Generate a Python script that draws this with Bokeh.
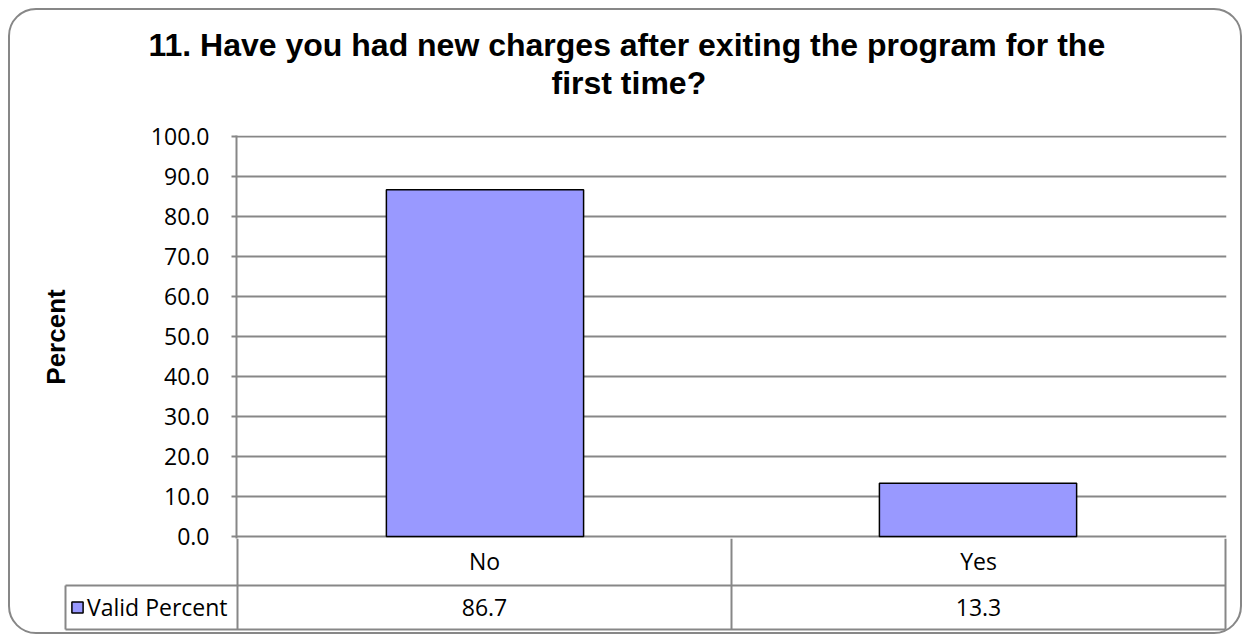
from bokeh.plotting import figure
from bokeh.layouts import column
from bokeh.models import (FactorRange, Range1d, FixedTicker, NumeralTickFormatter, Legend,
                          LegendItem, Title)
from bokeh.core.properties import value
from bokeh.embed import file_html
from bokeh.resources import INLINE

# ---- data ----
title_lines = ["11. Have you had new charges after exiting the program for the", "first time?"]
categories = ["No", "Yes"]
valid_percent = [86.7, 13.3]
series_name = "Valid Percent"
y_ticks = [0, 10, 20, 30, 40, 50, 60, 70, 80, 90, 100]
y_label = "Percent"

# ---- style / layout constants ----
GRID = "#878787"
BAR = "#9999FF"
W = 1230                 # inner width of the bordered chart area
PX_X = 494.0             # px per category
X0 = 227                 # canvas x of the first category boundary
LEG_W = 172              # width of the legend cell left of the table
ROW1, ROW2 = -12.25, -23.25   # table row boundaries (in axis units below 0)
FONT_T = "Open Sans"
OVERLAP = 22             # main canvas extends below its frame (room for the 0.0 label)

n = len(categories)

# ================= main chart =================
p = figure(width=W, height=528 + OVERLAP,
           x_range=FactorRange(factors=categories, range_padding=0.004, range_padding_units="absolute"),
           y_range=Range1d(-0.5, 100.25),
           x_axis_location=None, title=None,
           output_backend="svg", toolbar_location=None,
           min_border_left=X0 - 1, min_border_right=14, min_border_top=125, min_border_bottom=OVERLAP)
p.frame_align = False
p.border_fill_color = None
p.background_fill_color = "white"
p.outline_line_color = None

title_style = dict(text_font="Liberation Sans", text_font_style="bold", text_font_size="32px",
                   text_color="black")
spacer = Title(text=" ", text_font_size="1px", standoff=32)
t2 = Title(text=title_lines[1], align="left", offset=315, standoff=0, **title_style)
t1 = Title(text=title_lines[0], align="left", offset=-88, standoff=0, **title_style)
p.add_layout(spacer, "above")
p.add_layout(t2, "above")
p.add_layout(t1, "above")

ax = p.yaxis[0]
ax.ticker = FixedTicker(ticks=y_ticks)
ax.formatter = NumeralTickFormatter(format="0.0")
ax.major_label_text_font = FONT_T
ax.major_label_text_font_size = "23px"
ax.major_label_text_color = "black"
ax.major_label_standoff = 22
ax.axis_line_color = GRID
ax.axis_line_width = 2
ax.major_tick_line_color = GRID
ax.major_tick_line_width = 2
ax.major_tick_out = 5
ax.major_tick_in = 0
ax.minor_tick_line_color = None
ax.axis_label = y_label
ax.axis_label_text_font = "Liberation Sans"
ax.axis_label_text_font_style = "bold"
ax.axis_label_text_font_size = "26px"
ax.axis_label_text_color = "black"
ax.axis_label_standoff = 77

p.ygrid.grid_line_color = GRID
p.ygrid.grid_line_width = 2
p.xgrid.grid_line_color = None

p.vbar(x=categories, top=valid_percent, width=0.4, fill_color=BAR, line_color="black", line_width=1.5)

# ================= data table =================
t = figure(width=W, height=94,
           x_range=Range1d(-X0 / PX_X, (W - X0) / PX_X),
           y_range=Range1d(-24.0, -0.5),
           x_axis_location=None, y_axis_location=None, title=None,
           output_backend="svg", toolbar_location=None,
           min_border_left=0, min_border_right=0, min_border_top=0, min_border_bottom=0)
t.frame_align = False
t.margin = (-OVERLAP, 0, 0, 0)
t.border_fill_color = None
t.background_fill_color = None
t.outline_line_color = None
t.grid.grid_line_color = None

xs = [i + 0.5 for i in range(n)]
leg_x = -LEG_W / PX_X
# vertical cell borders at category boundaries
t.segment(x0=list(range(n + 1)), y0=[-0.5] * (n + 1), x1=list(range(n + 1)), y1=[ROW2] * (n + 1),
          line_color=GRID, line_width=2)
# horizontal borders (row 2 top and bottom incl. legend cell) and legend cell left side
t.segment(x0=[leg_x, leg_x, leg_x], y0=[ROW1, ROW2, ROW1], x1=[n, n, leg_x], y1=[ROW1, ROW2, ROW2],
          line_color=GRID, line_width=2)
t.text(x=xs, y=[ROW1 / 2] * n, text=categories, text_align="center", text_baseline="middle",
       text_font=value(FONT_T), text_font_size="23px", text_color="black")
t.text(x=xs, y=[(ROW1 + ROW2) / 2] * n, text=[f"{v:.1f}" for v in valid_percent],
       text_align="center", text_baseline="middle",
       text_font=value(FONT_T), text_font_size="23px", text_color="black")

# series key renderer (hidden; supplies the legend swatch)
key = t.vbar(x=xs, top=valid_percent, width=0.4, fill_color=BAR, line_color="black", line_width=1.5)
key.visible = False
legend = Legend(items=[LegendItem(label=series_name, renderers=[key])], location=(X0 - LEG_W + 5, 9))
legend.label_text_font = FONT_T
legend.label_text_font_size = "23px"
legend.label_text_color = "black"
legend.glyph_width = 14
legend.glyph_height = 14
legend.label_standoff = 3
legend.label_height = 32
legend.padding = 6
legend.margin = 0
legend.spacing = 0
legend.border_line_color = None
legend.background_fill_color = None
legend.inactive_fill_alpha = 0
t.add_layout(legend, "center")

layout = column(p, t, width=W + 4, height=94 + 528 + 4,
                styles={"margin-left": "8px", "margin-top": "8px",
                        "border": "2px solid #878787", "border-radius": "28px"})

open("out.html", "w").write(file_html(layout, INLINE))
